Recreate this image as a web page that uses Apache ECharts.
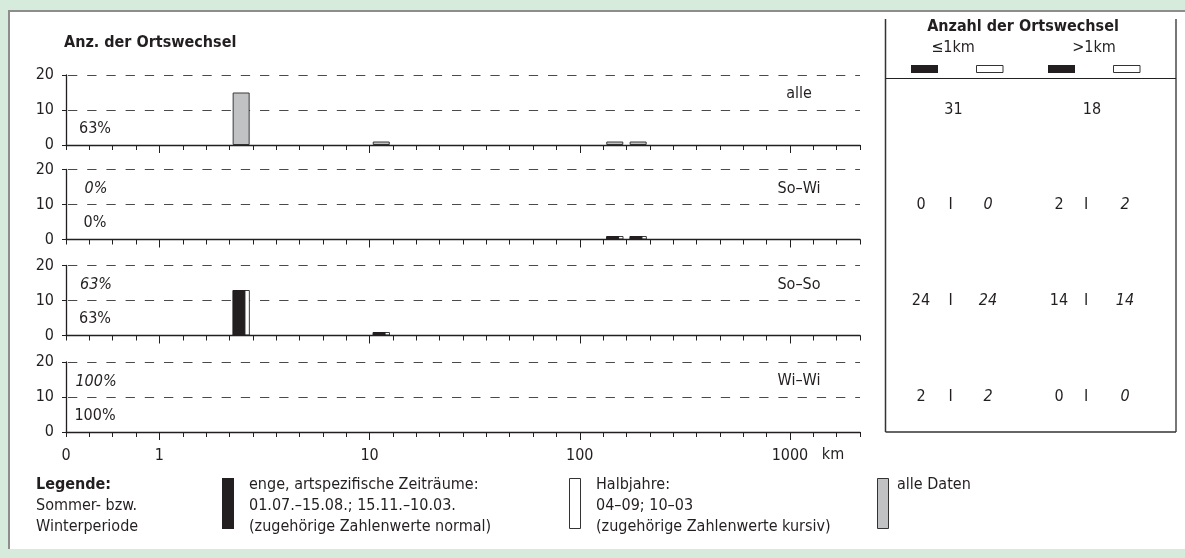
<!DOCTYPE html>
<html>
<head>
<meta charset="utf-8">
<script src="https://cdn.jsdelivr.net/npm/echarts@6/dist/echarts.min.js"></script>
<style>
  html, body { margin: 0; padding: 0; background: #d7ebdc; }
  #frame { position: absolute; left: 8px; top: 10px; width: 1190px; height: 539px; background: #fff;
           border-left: 2px solid #8d8d8d; border-top: 2px solid #8d8d8d; box-sizing: border-box; }
  #chart { position: absolute; left: 0; top: 0; width: 1185px; height: 558px; }
</style>
</head>
<body>
<div id="frame"></div>
<div id="chart"></div>
<script>
// ---- data ---------------------------------------------------------------
// distance classes (km) that contain moves beyond 1 km
const binLower = [4, 10, 200, 300];
const binUpper = [5, 20, 300, 400];

// panels from top to bottom
const panelNames = ['alle', 'So–Wi', 'So–So', 'Wi–Wi'];

// number of moves per distance class
const allData    = [15, 1, 1, 1];
const soWiNarrow = [0, 0, 1, 1];
const soWiHalf   = [0, 0, 1, 1];
const soSoNarrow = [13, 1, 0, 0];
const soSoHalf   = [13, 1, 0, 0];
const wiWiNarrow = [0, 0, 0, 0];
const wiWiHalf   = [0, 0, 0, 0];

// totals per panel: ≤1 km and >1 km (narrow periods | half years)
const nearNarrow = [31, 0, 24, 2];
const nearHalf   = [null, 0, 24, 2];
const farNarrow  = [18, 2, 14, 0];
const farHalf    = [null, 2, 14, 0];

// axis ticks
const xTickKm     = [0, 1, 10, 100, 1000];
const xTickLabels = ['0', '1', '10', '100', '1000'];
const xMaxKm      = 4000;
const yTicks      = [0, 10, 20];

// ---- layout & style -------------------------------------------------------
const FONT = "'Liberation Sans Narrow', 'DejaVu Sans Condensed', 'Roboto Condensed', 'Liberation Sans', sans-serif";
const INK = '#231f20';
const GRID_LEFT = 66, GRID_WIDTH = 794, GRID_H = 70;
const gridTops = [75, 169.5, 265.5, 362];

// distance axis: 0–1 km in four steps, then each decade in nine equal steps
function kmToAxis(d) {
  if (d < 1) return d * 4;
  const e = Math.floor(Math.log10(d) + 1e-9);
  const m = d / Math.pow(10, e);
  return 4 + 9 * e + (m - 1);
}
const xMax = kmToAxis(xMaxKm);
const majorPos = xTickKm.map(kmToAxis);
const binCenter = i => (kmToAxis(binLower[i]) + kmToAxis(binUpper[i])) / 2;
const pts = vals => vals.map((v, i) => (v > 0 ? [binCenter(i), v] : null)).filter(Boolean);

const grids = [], xAxes = [], yAxes = [], series = [];
gridTops.forEach((top, g) => {
  grids.push({ left: GRID_LEFT, top: top, width: GRID_WIDTH, height: GRID_H });
  // baseline with one tick per step
  xAxes.push({
    type: 'value', gridIndex: g, min: 0, max: xMax, interval: 1, z: 4,
    axisLine: { show: true, lineStyle: { color: INK, width: 1.3 } },
    axisTick: { show: true, length: 5, lineStyle: { color: INK, width: 1 } },
    axisLabel: { show: false }, splitLine: { show: false }
  });
  // longer ticks at the decades, labels on the lowest panel
  xAxes.push({
    type: 'value', gridIndex: g, min: 0, max: xMax, position: 'bottom',
    axisLine: { show: false },
    axisTick: { show: true, length: 8, customValues: majorPos.slice(1), lineStyle: { color: INK, width: 1 } },
    axisLabel: {
      show: g === gridTops.length - 1, customValues: majorPos, margin: 16,
      color: INK, fontFamily: FONT, fontSize: 16,
      formatter: v => { const k = majorPos.findIndex(p => Math.abs(p - v) < 1e-6); return k >= 0 ? xTickLabels[k] : ''; }
    },
    splitLine: { show: false }
  });
  yAxes.push({
    type: 'value', gridIndex: g, min: yTicks[0], max: yTicks[yTicks.length - 1], interval: yTicks[1] - yTicks[0],
    axisLine: { show: true, lineStyle: { color: INK, width: 1.3 } },
    axisTick: { show: true, length: 4, lineStyle: { color: INK } },
    axisLabel: { color: INK, fontFamily: FONT, fontSize: 16, margin: 12 },
    splitLine: { show: true, lineStyle: { color: '#4a4a4a', width: 1, type: [9.3, 9.9], dashOffset: 17.2 } }
  });
});

// all data: grey bars
series.push({
  type: 'bar', xAxisIndex: 0, yAxisIndex: 0, data: pts(allData), barWidth: 17,
  itemStyle: { color: '#c1c2c4', borderColor: '#3a3a3a', borderWidth: 1 }
});
// narrow periods (black, in front) and half years (white, behind)
[[soWiNarrow, soWiHalf], [soSoNarrow, soSoHalf], [wiWiNarrow, wiWiHalf]].forEach(([narrow, half], k) => {
  const g = k + 1;
  series.push({
    type: 'bar', xAxisIndex: 2 * g, yAxisIndex: g, data: pts(narrow), barWidth: 13, barGap: '-66%', z: 3,
    itemStyle: { color: INK, borderColor: INK, borderWidth: 1 }
  });
  series.push({
    type: 'bar', xAxisIndex: 2 * g, yAxisIndex: g, data: pts(half), barWidth: 13, barGap: '-66%', z: 2,
    itemStyle: { color: '#ffffff', borderColor: '#3a3a3a', borderWidth: 1 }
  });
});

// ---- text and table ------------------------------------------------------
function txt(x, y, text, opt) {
  opt = opt || {};
  return {
    type: 'text', x: x, y: y, z: 10, silent: true,
    style: {
      text: text, fill: INK, fontFamily: FONT, fontSize: opt.size || 16,
      fontWeight: opt.bold ? 'bold' : 'normal', fontStyle: opt.italic ? 'italic' : 'normal',
      align: opt.align || 'left', verticalAlign: 'middle'
    }
  };
}
function box(x, y, w, h, fill, stroke) {
  return { type: 'rect', z: 10, silent: true, shape: { x: x, y: y, width: w, height: h },
           style: { fill: fill, stroke: stroke || null, lineWidth: stroke ? 1 : 0 } };
}
function line(x1, y1, x2, y2, color, width) {
  return { type: 'line', z: 10, silent: true, shape: { x1: x1, y1: y1, x2: x2, y2: y2 },
           style: { stroke: color, lineWidth: width } };
}
const pct = (a, b) => Math.round(100 * a / (a + b)) + '%';

const graphics = [];
graphics.push(txt(64, 43, 'Anz. der Ortswechsel', { bold: true }));
gridTops.forEach((top, g) => {
  const upperMid = top + GRID_H / 4, lowerMid = top + 3 * GRID_H / 4;
  graphics.push(txt(799, upperMid + 1.5, panelNames[g], { align: 'center' }));
  graphics.push(txt(95, lowerMid + 1, pct(nearNarrow[g], farNarrow[g]), { align: 'center' }));
  if (nearHalf[g] !== null) graphics.push(txt(96, upperMid + 2, pct(nearHalf[g], farHalf[g]), { align: 'center', italic: true }));
});
graphics.push(txt(833, 455, 'km', { align: 'center' }));

// summary table
graphics.push(line(885.5, 19, 885.5, 432, '#333', 1.5));
graphics.push(line(1176, 19, 1176, 432, '#777', 2));
graphics.push(line(885.5, 432, 1176, 432, '#333', 1.5));
graphics.push(line(885.5, 78.5, 1176, 78.5, '#222', 1));
graphics.push(txt(1023, 27, 'Anzahl der Ortswechsel', { bold: true, align: 'center' }));
graphics.push(txt(953, 48, '≤1km', { align: 'center' }));
graphics.push(txt(1094, 48, '>1km', { align: 'center' }));
graphics.push(box(911, 65, 27, 8, INK));
graphics.push(box(976.5, 65.5, 26.5, 7, '#fff', '#333'));
graphics.push(box(1048, 65, 27, 8, INK));
graphics.push(box(1113.5, 65.5, 26.5, 7, '#fff', '#333'));
gridTops.forEach((top, g) => {
  const y = top + GRID_H / 2;
  if (nearHalf[g] === null) {
    graphics.push(txt(953.5, y, String(nearNarrow[g]), { align: 'center' }));
    graphics.push(txt(1092, y, String(farNarrow[g]), { align: 'center' }));
  } else {
    graphics.push(txt(921, y, String(nearNarrow[g]), { align: 'center' }));
    graphics.push(txt(950.5, y, 'I', { align: 'center' }));
    graphics.push(txt(988, y, String(nearHalf[g]), { align: 'center', italic: true }));
    graphics.push(txt(1059, y, String(farNarrow[g]), { align: 'center' }));
    graphics.push(txt(1086, y, 'I', { align: 'center' }));
    graphics.push(txt(1125, y, String(farHalf[g]), { align: 'center', italic: true }));
  }
});

// legend
graphics.push(txt(36, 485, 'Legende:', { bold: true }));
graphics.push(txt(36, 506, 'Sommer- bzw.'));
graphics.push(txt(36, 527, 'Winterperiode'));
graphics.push(box(222, 478, 12, 51, INK));
graphics.push(txt(249, 485, 'enge, artspezifische Zeiträume:'));
graphics.push(txt(249, 506, '01.07.–15.08.; 15.11.–10.03.'));
graphics.push(txt(249, 527, '(zugehörige Zahlenwerte normal)'));
graphics.push(box(569.5, 478.5, 11, 50, '#fff', '#333'));
graphics.push(txt(596, 485, 'Halbjahre:'));
graphics.push(txt(596, 506, '04–09; 10–03'));
graphics.push(txt(596, 527, '(zugehörige Zahlenwerte kursiv)'));
graphics.push(box(877.5, 478.5, 11, 50, '#c1c2c4', '#333'));
graphics.push(txt(897, 485, 'alle Daten'));

const chart = echarts.init(document.getElementById('chart'), null, { renderer: 'canvas' });
chart.setOption({
  animation: false,
  backgroundColor: 'transparent',
  grid: grids,
  xAxis: xAxes,
  yAxis: yAxes,
  series: series,
  graphic: graphics
});
</script>
</body>
</html>
